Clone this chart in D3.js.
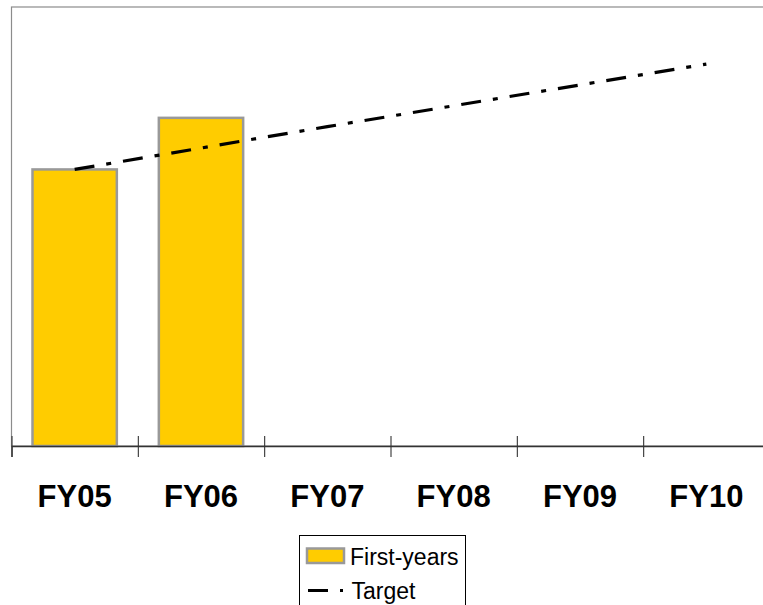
<!DOCTYPE html>
<html>
<head>
<meta charset="utf-8">
<script src="https://cdn.jsdelivr.net/npm/d3@7"></script>
<style>
  html, body { margin: 0; padding: 0; background: #fff; }
  svg { display: block; font-family: "Liberation Sans", Arial, sans-serif; }
</style>
</head>
<body>
<svg id="chart" width="763" height="605"></svg>
<script>
// Fiscal years on the category axis
const categories = ["FY05", "FY06", "FY07", "FY08", "FY09", "FY10"];
// First-year enrolment (only FY05 and FY06 reported so far)
const firstYears = [2520, 2990, null, null, null, null];
// Enrolment target path
const target = [2520, 2715, 2910, 3100, 3290, 3480];
const yMax = 4000;

const svg = d3.select("#chart");

const plot = { left: 11.5, right: 769.5, top: 7, bottom: 446 };

const x = d3.scaleBand()
  .domain(categories)
  .range([plot.left, plot.right])
  .paddingInner(0.3325)
  .paddingOuter(0.16625);

const xEdge = d3.scaleLinear()
  .domain([0, categories.length])
  .range([plot.left, plot.right]);

const y = d3.scaleLinear()
  .domain([0, yMax])
  .range([plot.bottom, plot.top]);

// plot area frame
svg.append("rect")
  .attr("x", plot.left)
  .attr("y", plot.top)
  .attr("width", plot.right - plot.left)
  .attr("height", plot.bottom - plot.top)
  .attr("fill", "none")
  .attr("stroke", "#8c8c8c")
  .attr("stroke-width", 1.2);

// bars
svg.append("g")
  .selectAll("rect")
  .data(categories.map((c, i) => ({ c, v: firstYears[i] })).filter(d => d.v != null))
  .join("rect")
  .attr("x", d => x(d.c))
  .attr("y", d => y(d.v))
  .attr("width", x.bandwidth())
  .attr("height", d => y(0) - y(d.v))
  .attr("fill", "#ffcc00")
  .attr("stroke", "#999999")
  .attr("stroke-width", 2.5);

// axis baseline with tick marks between categories
const edgeAxis = d3.axisBottom(xEdge)
  .tickValues(d3.range(categories.length + 1))
  .tickSize(11)
  .tickFormat("");
const gEdge = svg.append("g")
  .attr("transform", `translate(0,${plot.bottom})`)
  .call(edgeAxis);
gEdge.select(".domain").attr("stroke", "#333").attr("stroke-width", 1.3);
gEdge.selectAll(".tick line")
  .attr("y1", -10)
  .attr("y2", 11)
  .attr("stroke", "#333")
  .attr("stroke-width", 1.1);

// category labels
const labelAxis = d3.axisBottom(x).tickSize(0).tickPadding(0);
const gLab = svg.append("g")
  .attr("transform", `translate(0,${plot.bottom})`)
  .call(labelAxis);
gLab.select(".domain").remove();
gLab.selectAll("text")
  .attr("y", 61)
  .attr("dy", 0)
  .attr("fill", "#000")
  .style("font-family", "'Liberation Sans', Arial, sans-serif")
  .style("font-size", "31px")
  .style("font-weight", "bold");

// target line
const line = d3.line()
  .x((d, i) => x(categories[i]) + x.bandwidth() / 2)
  .y(d => y(d));
svg.append("path")
  .datum(target)
  .attr("d", line)
  .attr("fill", "none")
  .attr("stroke", "#000")
  .attr("stroke-width", 3.2)
  .attr("stroke-dasharray", "20 12 5 12");

// legend
const lg = svg.append("g");
lg.append("rect")
  .attr("x", 299.5).attr("y", 535.5)
  .attr("width", 166).attr("height", 80)
  .attr("fill", "#fff")
  .attr("stroke", "#000")
  .attr("stroke-width", 1);
lg.append("rect")
  .attr("x", 307).attr("y", 548.5)
  .attr("width", 37).attr("height", 14.5)
  .attr("fill", "#ffcc00")
  .attr("stroke", "#999999")
  .attr("stroke-width", 2.5);
lg.append("text")
  .attr("x", 350).attr("y", 565)
  .attr("font-size", "23px")
  .attr("fill", "#000")
  .text("First-years");
lg.append("line")
  .attr("x1", 308).attr("x2", 345)
  .attr("y1", 590.5).attr("y2", 590.5)
  .attr("stroke", "#000")
  .attr("stroke-width", 3.2)
  .attr("stroke-dasharray", "20 12 3 12");
lg.append("text")
  .attr("x", 351.5).attr("y", 599)
  .attr("font-size", "23px")
  .attr("fill", "#000")
  .text("Target");
</script>
</body>
</html>
